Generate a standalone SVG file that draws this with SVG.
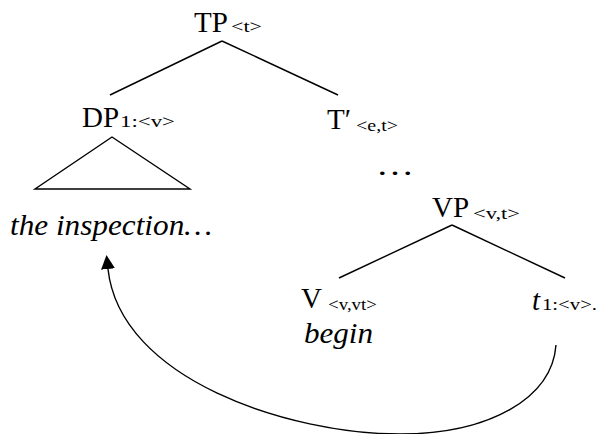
<svg xmlns="http://www.w3.org/2000/svg" width="598" height="434" viewBox="0 0 598 434">
<style>
text{font-family:'Liberation Serif','Times New Roman',Times,serif;fill:#000}
.lbl{font-size:29px}
.it{font-style:italic}
.sub{font-size:16px}
.edge{stroke:#000;stroke-width:1.4;fill:none}
</style>
<defs>
<marker id="ah" markerUnits="userSpaceOnUse" markerWidth="14" markerHeight="14" viewBox="0 0 14 14" refX="0" refY="7" orient="auto">
<path d="M0,0 L14,7 L0,14 z" fill="#000"/>
</marker>
</defs>
<g id="connectors">
<line class="edge" x1="222" y1="41" x2="110" y2="95"/>
<line class="edge" x1="222" y1="41" x2="338" y2="95"/>
<line class="edge" x1="452" y1="225" x2="339" y2="278"/>
<line class="edge" x1="452" y1="225" x2="565" y2="278"/>
<path class="edge" d="M556,345 C552,398 490,434 400,434 C290,434 120,380 108,269" marker-end="url(#ah)"/>
</g>
<g id="TP">
<text class="lbl" x="194" y="32">TP</text>
<text class="sub" x="231" y="32" textLength="31" lengthAdjust="spacingAndGlyphs">&lt;t&gt;</text>
</g>
<g id="DP">
<text class="lbl" x="82" y="127">DP</text>
<text class="sub" x="120" y="127" textLength="55" lengthAdjust="spacingAndGlyphs">1:&lt;v&gt;</text>
<polygon class="edge" points="112,137 35,189 190,189"/>
<text class="lbl it" x="10" y="235" textLength="202" lengthAdjust="spacingAndGlyphs">the inspection…</text>
</g>
<g id="Tbar">
<text class="lbl" x="327" y="129">T′</text>
<text class="sub" x="356" y="131" textLength="42" lengthAdjust="spacingAndGlyphs">&lt;e,t&gt;</text>
</g>
<g id="dots">
<text class="lbl" x="376" y="175" textLength="38" lengthAdjust="spacingAndGlyphs">…</text>
</g>
<g id="VP">
<text class="lbl" x="432" y="217">VP</text>
<text class="sub" x="473" y="219" textLength="47" lengthAdjust="spacingAndGlyphs">&lt;v,t&gt;</text>
</g>
<g id="V">
<text class="lbl" x="301" y="308">V</text>
<text class="sub" x="328" y="310" textLength="49" lengthAdjust="spacingAndGlyphs">&lt;v,vt&gt;</text>
<text class="lbl it" x="304" y="343" textLength="69" lengthAdjust="spacingAndGlyphs">begin</text>
</g>
<g id="trace">
<text class="lbl it" x="532" y="310">t</text>
<text class="sub" x="542" y="310" textLength="55" lengthAdjust="spacingAndGlyphs">1:&lt;v&gt;.</text>
</g>
</svg>
